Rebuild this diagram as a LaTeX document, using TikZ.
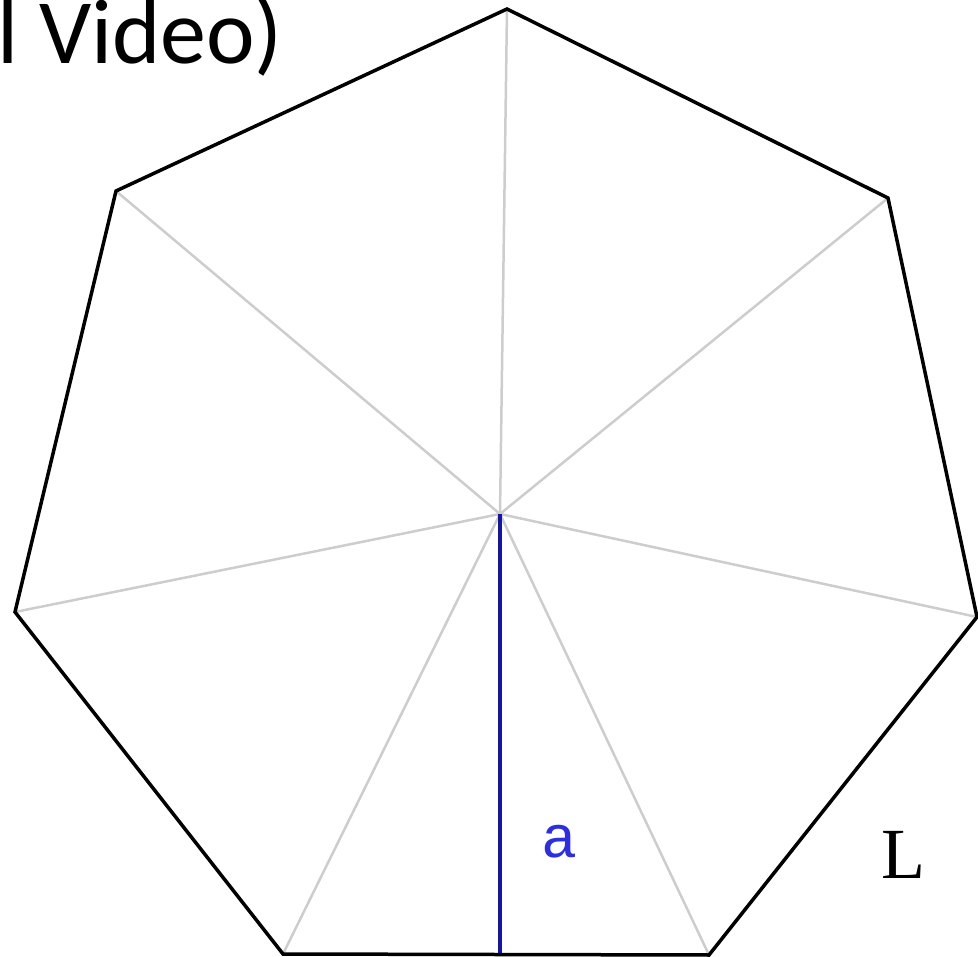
\documentclass[tikz,border=0pt]{standalone}
\usepackage{fontspec}
\setmainfont{Carlito}
\newfontfamily\monofont{Liberation Mono}
\newfontfamily\seriffont{Liberation Serif}
\usetikzlibrary{positioning}
\definecolor{spokegray}{RGB}{205,205,205}
\definecolor{apoblue}{RGB}{20,20,170}
\definecolor{labelblue}{RGB}{45,45,225}
\tikzset{
  side/.style = {draw=black, line width=3.5pt, line join=miter},
  spoke/.style = {draw=spokegray, line width=2.5pt},
  apo/.style = {draw=apoblue, line width=3.5pt},
  lbl/.style = {inner sep=0pt, align=center}
}

\begin{document}
\begin{tikzpicture}[x=1pt, y=-1pt]
            \useasboundingbox (0,0) rectangle (978,957);
            % vertices of the heptagon
            \coordinate (c) at (500,514);
            \coordinate (v1) at (507,9);
            \coordinate (v2) at (888,198);
            \coordinate (v3) at (977,617);
            \coordinate (v4) at (709,955);
            \coordinate (v5) at (283,954);
            \coordinate (v6) at (15,612);
            \coordinate (v7) at (116,191);
            \coordinate (m) at (500,955);
            \foreach \i in {1,...,7}
                \draw[spoke] (c) -- (v\i);
            \draw[apo] (c) -- (m);
            \draw[side] (v1) -- (v2) -- (v3) -- (v4) -- (v5) -- (v6) -- (v7) -- cycle;
            \node[lbl, text=labelblue, font=\monofont\fontsize{60}{66}\selectfont] (a) at (559,842) {a};
            \node[lbl, font=\seriffont\fontsize{72}{80}\selectfont] (L) at (903,855) {L};
            \node[lbl, anchor=base west, font=\fontsize{92}{100}\selectfont] (title) at (-3,64) {l Video)};
        \end{tikzpicture}
\end{document}
